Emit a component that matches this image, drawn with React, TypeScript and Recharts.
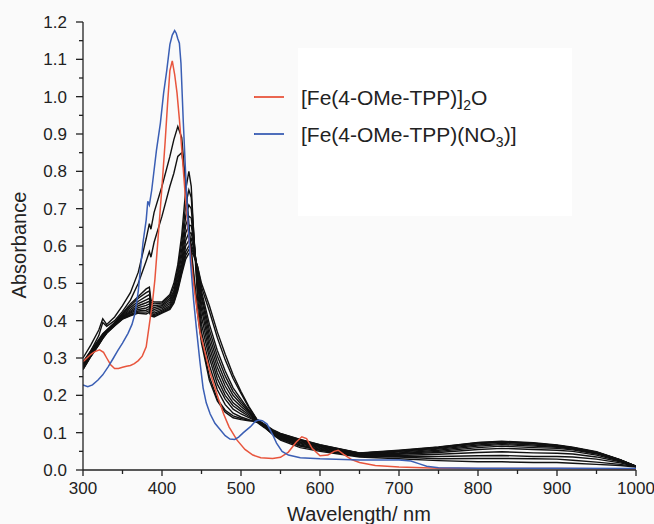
import React from 'react';
import { LineChart, Line, XAxis, YAxis } from 'recharts';

const FONT = '"Liberation Sans", Arial, Helvetica, sans-serif';

// Wavelength grid used for the black (titration) spectra
const WL = [300, 310, 320, 325, 330, 340, 350, 360, 370, 380, 384, 386, 390, 400, 410, 415, 420, 425, 430, 434, 437, 440, 445, 450, 460, 470, 480, 490, 500, 510, 520, 530, 540, 550, 575, 600, 650, 700, 750, 800, 830, 870, 900, 920, 950, 980, 1000];

// Early spectra (Soret ~420 nm)
const E1 = [0.30, 0.335, 0.375, 0.405, 0.39, 0.41, 0.44, 0.475, 0.53, 0.62, 0.66, 0.645, 0.69, 0.76, 0.84, 0.885, 0.92, 0.89, 0.76, 0.64, 0.58, 0.52, 0.42, 0.34, 0.24, 0.185, 0.155, 0.14, 0.135, 0.132, 0.13, 0.115, 0.095, 0.08, 0.06, 0.05, 0.035, 0.03, 0.025, 0.022, 0.022, 0.02, 0.02, 0.018, 0.015, 0.012, 0.008];
const E2 = [0.29, 0.32, 0.36, 0.395, 0.385, 0.40, 0.425, 0.455, 0.50, 0.56, 0.585, 0.57, 0.61, 0.68, 0.76, 0.795, 0.84, 0.85, 0.77, 0.66, 0.59, 0.53, 0.43, 0.35, 0.25, 0.19, 0.16, 0.145, 0.138, 0.133, 0.13, 0.118, 0.10, 0.085, 0.065, 0.053, 0.037, 0.035, 0.03, 0.031, 0.031, 0.03, 0.029, 0.026, 0.021, 0.015, 0.009];

// Family of spectra (Soret ~434 nm)
const F1 = [0.285, 0.32, 0.35, 0.365, 0.375, 0.395, 0.42, 0.445, 0.465, 0.485, 0.49, 0.455, 0.45, 0.45, 0.47, 0.50, 0.55, 0.63, 0.75, 0.80, 0.76, 0.64, 0.46, 0.37, 0.28, 0.215, 0.175, 0.152, 0.142, 0.135, 0.128, 0.113, 0.096, 0.082, 0.064, 0.054, 0.038, 0.036, 0.036, 0.038, 0.039, 0.036, 0.036, 0.035, 0.029, 0.019, 0.009];
const F2 = [0.283, 0.318, 0.348, 0.363, 0.374, 0.394, 0.418, 0.44, 0.46, 0.475, 0.48, 0.45, 0.445, 0.447, 0.465, 0.49, 0.54, 0.61, 0.71, 0.75, 0.73, 0.64, 0.48, 0.39, 0.30, 0.23, 0.19, 0.163, 0.15, 0.14, 0.13, 0.115, 0.098, 0.085, 0.067, 0.056, 0.039, 0.039, 0.042, 0.047, 0.049, 0.046, 0.045, 0.043, 0.035, 0.022, 0.009];
const F3 = [0.281, 0.316, 0.346, 0.361, 0.373, 0.393, 0.416, 0.435, 0.452, 0.465, 0.47, 0.445, 0.44, 0.443, 0.46, 0.48, 0.53, 0.59, 0.68, 0.71, 0.70, 0.63, 0.50, 0.41, 0.315, 0.245, 0.20, 0.172, 0.157, 0.144, 0.131, 0.116, 0.10, 0.087, 0.07, 0.058, 0.04, 0.042, 0.047, 0.055, 0.058, 0.055, 0.053, 0.05, 0.04, 0.024, 0.009];
const F4 = [0.279, 0.314, 0.344, 0.36, 0.372, 0.392, 0.414, 0.43, 0.446, 0.456, 0.46, 0.44, 0.435, 0.44, 0.455, 0.475, 0.52, 0.575, 0.655, 0.68, 0.675, 0.62, 0.51, 0.43, 0.33, 0.26, 0.212, 0.18, 0.163, 0.148, 0.132, 0.117, 0.102, 0.089, 0.072, 0.06, 0.041, 0.044, 0.05, 0.06, 0.064, 0.06, 0.058, 0.054, 0.043, 0.025, 0.009];
const F5 = [0.277, 0.312, 0.342, 0.358, 0.371, 0.391, 0.412, 0.426, 0.44, 0.448, 0.452, 0.435, 0.43, 0.436, 0.45, 0.47, 0.51, 0.56, 0.635, 0.655, 0.655, 0.615, 0.52, 0.445, 0.345, 0.275, 0.225, 0.19, 0.17, 0.152, 0.133, 0.118, 0.103, 0.091, 0.074, 0.062, 0.042, 0.046, 0.053, 0.064, 0.068, 0.064, 0.061, 0.056, 0.045, 0.026, 0.01];
const F6 = [0.275, 0.31, 0.34, 0.356, 0.37, 0.39, 0.41, 0.423, 0.435, 0.441, 0.445, 0.43, 0.425, 0.432, 0.445, 0.465, 0.50, 0.55, 0.615, 0.635, 0.635, 0.605, 0.53, 0.46, 0.36, 0.29, 0.238, 0.20, 0.177, 0.155, 0.134, 0.119, 0.104, 0.093, 0.076, 0.063, 0.043, 0.048, 0.056, 0.067, 0.071, 0.067, 0.063, 0.058, 0.046, 0.026, 0.01];
const F7 = [0.273, 0.308, 0.338, 0.355, 0.369, 0.389, 0.408, 0.42, 0.43, 0.434, 0.438, 0.425, 0.42, 0.428, 0.44, 0.46, 0.495, 0.54, 0.60, 0.615, 0.62, 0.595, 0.535, 0.47, 0.375, 0.305, 0.252, 0.21, 0.183, 0.158, 0.135, 0.12, 0.105, 0.095, 0.078, 0.065, 0.044, 0.05, 0.058, 0.07, 0.074, 0.07, 0.065, 0.059, 0.047, 0.027, 0.01];
const F8 = [0.271, 0.306, 0.337, 0.354, 0.368, 0.388, 0.406, 0.417, 0.426, 0.428, 0.432, 0.42, 0.416, 0.425, 0.436, 0.455, 0.49, 0.535, 0.585, 0.60, 0.605, 0.585, 0.54, 0.48, 0.39, 0.32, 0.265, 0.22, 0.19, 0.16, 0.135, 0.121, 0.106, 0.096, 0.08, 0.066, 0.045, 0.051, 0.06, 0.072, 0.075, 0.071, 0.066, 0.06, 0.048, 0.027, 0.01];
const F9 = [0.27, 0.305, 0.336, 0.353, 0.367, 0.387, 0.405, 0.415, 0.423, 0.423, 0.427, 0.416, 0.413, 0.422, 0.433, 0.45, 0.485, 0.53, 0.575, 0.59, 0.595, 0.58, 0.545, 0.49, 0.425, 0.355, 0.295, 0.245, 0.205, 0.167, 0.135, 0.121, 0.107, 0.097, 0.081, 0.067, 0.045, 0.052, 0.061, 0.073, 0.076, 0.072, 0.066, 0.06, 0.048, 0.027, 0.01];
const F10 = [0.269, 0.304, 0.335, 0.352, 0.366, 0.386, 0.404, 0.413, 0.42, 0.418, 0.422, 0.413, 0.41, 0.42, 0.43, 0.447, 0.48, 0.525, 0.565, 0.58, 0.585, 0.575, 0.545, 0.50, 0.44, 0.37, 0.31, 0.255, 0.21, 0.17, 0.136, 0.122, 0.108, 0.098, 0.082, 0.068, 0.046, 0.053, 0.062, 0.074, 0.077, 0.073, 0.067, 0.061, 0.049, 0.028, 0.01];

const BLACK_SERIES = [E1, E2, F1, F2, F3, F4, F5, F6, F7, F8, F9, F10];

// [Fe(4-OMe-TPP)]2O
const RED_WL = [300, 305, 310, 315, 321, 326, 330, 335, 340, 345, 350, 355, 360, 365, 370, 375, 380, 384, 388, 391, 395, 400, 404, 407, 410, 413, 416, 419, 422, 425, 430, 435, 440, 448, 455, 461, 470, 478, 485, 495, 505, 515, 525, 540, 550, 560, 570, 577, 583, 590, 600, 610, 618, 623, 630, 640, 650, 670, 700, 750, 800, 900, 1000];
const RED_A = [0.29, 0.30, 0.31, 0.317, 0.322, 0.315, 0.30, 0.282, 0.272, 0.272, 0.275, 0.278, 0.28, 0.285, 0.293, 0.305, 0.33, 0.39, 0.45, 0.51, 0.62, 0.76, 0.88, 0.98, 1.07, 1.096, 1.06, 1.01, 0.94, 0.86, 0.72, 0.60, 0.50, 0.37, 0.31, 0.26, 0.20, 0.15, 0.115, 0.08, 0.055, 0.04, 0.033, 0.031, 0.034, 0.048, 0.075, 0.089, 0.084, 0.058, 0.038, 0.04, 0.05, 0.053, 0.042, 0.028, 0.02, 0.012, 0.008, 0.005, 0.004, 0.004, 0.003];

// [Fe(4-OMe-TPP)(NO3)]
const BLUE_WL = [300, 306, 312, 319, 325, 332, 338, 344, 350, 357, 362, 366, 370, 376, 380, 382, 384, 387, 393, 398, 402, 406, 410, 413, 416, 418, 420, 422, 424, 427, 430, 433, 436, 440, 444, 448, 452, 456, 461, 467, 474, 480, 486, 492, 497, 503, 512, 518, 522, 527, 533, 540, 545, 552, 560, 575, 600, 650, 700, 715, 725, 735, 750, 800, 900, 1000];
const BLUE_A = [0.228, 0.223, 0.228, 0.241, 0.255, 0.277, 0.298, 0.32, 0.34, 0.366, 0.39, 0.42, 0.48, 0.61, 0.67, 0.72, 0.71, 0.75, 0.857, 0.93, 1.009, 1.07, 1.14, 1.165, 1.177, 1.17, 1.155, 1.143, 1.09, 0.93, 0.79, 0.66, 0.56, 0.455, 0.37, 0.29, 0.22, 0.18, 0.15, 0.125, 0.107, 0.092, 0.083, 0.082, 0.088, 0.1, 0.116, 0.13, 0.134, 0.132, 0.123, 0.095, 0.072, 0.05, 0.04, 0.033, 0.03, 0.027, 0.027, 0.024, 0.017, 0.01, 0.006, 0.005, 0.005, 0.004];

const X_TICKS = [300, 350, 400, 450, 500, 550, 600, 650, 700, 750, 800, 850, 900, 950, 1000];
const Y_TICKS = [0, 0.05, 0.1, 0.15, 0.2, 0.25, 0.3, 0.35, 0.4, 0.45, 0.5, 0.55, 0.6, 0.65, 0.7, 0.75, 0.8, 0.85, 0.9, 0.95, 1.0, 1.05, 1.1, 1.15, 1.2];

const LEGEND_LABELS = ['[Fe(4-OMe-TPP)]', '2', 'O', '[Fe(4-OMe-TPP)(NO', '3', ')]'];
const RED = '#e8553d';
const BLUE = '#3a5eb4';
const AXIS = '#222';

const toRows = (w: number[], a: number[]) => w.map((x, i) => ({ w: x, a: a[i] }));

function XTick(props: any) {
  const { x, y, payload } = props;
  const v = payload.value as number;
  const major = v % 100 === 0;
  return (
    <g>
      <line x1={x} y1={y} x2={x} y2={y + (major ? 6 : 4)} stroke={AXIS} strokeWidth={1.3} />
      {major && (
        <text x={x} y={y + 24} textAnchor="middle" fontSize={17} fill={AXIS} fontFamily={FONT}>
          {v}
        </text>
      )}
    </g>
  );
}

function YTick(props: any) {
  const { x, y, payload } = props;
  const v = payload.value as number;
  const major = Math.round(v * 100) % 10 === 0;
  return (
    <g>
      <line x1={x - (major ? 7 : 4)} y1={y} x2={x} y2={y} stroke={AXIS} strokeWidth={1.3} />
      {major && (
        <text x={x - 16} y={y} dy="0.36em" textAnchor="end" fontSize={17} fill={AXIS} fontFamily={FONT}>
          {v.toFixed(1)}
        </text>
      )}
    </g>
  );
}

export default function App() {
  return (
    <div style={{ position: 'absolute', left: 0, top: 0, width: 654, height: 524, background: '#fafafa', overflow: 'hidden' }}>
      <LineChart width={654} height={524} margin={{ top: 22, right: 18, left: 0, bottom: 0 }}>
        <XAxis
          type="number"
          dataKey="w"
          domain={[300, 1000]}
          ticks={X_TICKS}
          interval={0}
          tick={<XTick />}
          tickLine={false}
          tickSize={0}
          tickMargin={0}
          height={54}
          allowDataOverflow
          axisLine={{ stroke: AXIS, strokeWidth: 1.3 }}
        />
        <YAxis
          type="number"
          domain={[0, 1.2]}
          ticks={Y_TICKS}
          interval={0}
          tick={<YTick />}
          tickLine={false}
          tickSize={0}
          tickMargin={0}
          width={83}
          allowDataOverflow
          axisLine={{ stroke: AXIS, strokeWidth: 1.3 }}
        />
        {BLACK_SERIES.map((arr, i) => (
          <Line
            key={'b' + i}
            data={toRows(WL, arr)}
            dataKey="a"
            type="linear"
            stroke="#111"
            strokeWidth={1.4}
            dot={false}
            activeDot={false}
            isAnimationActive={false}
          />
        ))}
        <Line data={toRows(RED_WL, RED_A)} dataKey="a" type="linear" stroke={RED} strokeWidth={1.5} dot={false} activeDot={false} isAnimationActive={false} />
        <Line data={toRows(BLUE_WL, BLUE_A)} dataKey="a" type="linear" stroke={BLUE} strokeWidth={1.5} dot={false} activeDot={false} isAnimationActive={false} />
      </LineChart>
      <svg width={654} height={524} style={{ position: 'absolute', left: 0, top: 0, pointerEvents: 'none' }}>
        <rect x={298} y={48} width={274} height={168} fill="#ffffff" />
        <line x1={254} y1={97} x2={284} y2={97} stroke={RED} strokeWidth={1.8} />
        <text x={301} y={104.5} fontSize={21} fill={AXIS} fontFamily={FONT}>
          {LEGEND_LABELS[0]}
          <tspan fontSize={14} dy={5}>{LEGEND_LABELS[1]}</tspan>
          <tspan dy={-5}>{LEGEND_LABELS[2]}</tspan>
        </text>
        <line x1={254} y1={134} x2={284} y2={134} stroke={BLUE} strokeWidth={1.8} />
        <text x={301} y={141.5} fontSize={21} fill={AXIS} fontFamily={FONT}>
          {LEGEND_LABELS[3]}
          <tspan fontSize={14} dy={5}>{LEGEND_LABELS[4]}</tspan>
          <tspan dy={-5}>{LEGEND_LABELS[5]}</tspan>
        </text>
        <text transform="translate(26,245) rotate(-90)" textAnchor="middle" fontSize={20} fill={AXIS} fontFamily={FONT}>
          Absorbance
        </text>
        <text x={359} y={521} textAnchor="middle" fontSize={20} fill={AXIS} fontFamily={FONT}>
          Wavelength/ nm
        </text>
      </svg>
    </div>
  );
}
